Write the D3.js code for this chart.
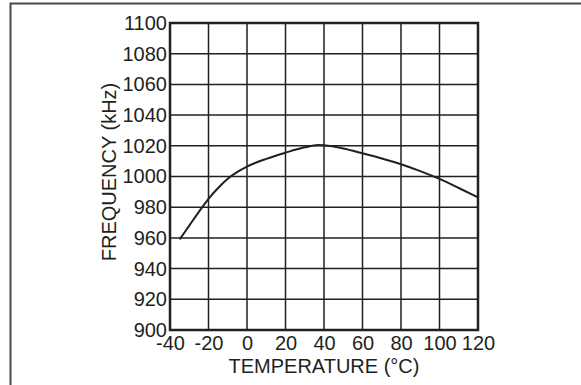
<!DOCTYPE html>
<html>
<head>
<meta charset="utf-8">
<script src="https://cdn.jsdelivr.net/npm/d3@7"></script>
<style>
  body { margin: 0; background: #fff; }
  text { font-family: "Liberation Sans", Arial, sans-serif; fill: #231f20; }
</style>
</head>
<body>
<div id="chart"></div>
<script>
// Datos
const temperature = [-35, -30, -25, -20, -15, -10, -5, 0, 10, 20, 30, 37, 40, 50, 60, 70, 80, 90, 100, 110, 120];
const frequency = [959, 968, 977, 985.5, 992.5, 998.5, 1003, 1006.5, 1011.5, 1015.5, 1019, 1020.5, 1020.3, 1018.3, 1015.1, 1011.7, 1008, 1003.5, 998.4, 992.5, 986.4];
const xTicks = [-40, -20, 0, 20, 40, 60, 80, 100, 120];
const yTicks = [900, 920, 940, 960, 980, 1000, 1020, 1040, 1060, 1080, 1100];

const width = 581;
const height = 385;
const margin = { top: 23, right: 103, bottom: 55, left: 170 };
const innerWidth = width - margin.left - margin.right;
const innerHeight = height - margin.top - margin.bottom;

const svg = d3.select("#chart")
    .append("svg")
    .attr("width", width)
    .attr("height", height);

// Marco exterior
svg.append("path")
    .attr("d", `M10.5,${height} V3.5 H${width}`)
    .attr("fill", "none")
    .attr("stroke", "#4a4a4a")
    .attr("stroke-width", 2);

const g = svg.append("g")
    .attr("transform", `translate(${margin.left},${margin.top})`);

const x = d3.scaleLinear().domain([-40, 120]).range([0, innerWidth]);
const y = d3.scaleLinear().domain([900, 1100]).range([innerHeight, 0]);

// Rejilla
g.append("g")
    .selectAll("line")
    .data(xTicks)
    .enter()
    .append("line")
    .attr("x1", d => x(d)).attr("x2", d => x(d))
    .attr("y1", 0).attr("y2", innerHeight)
    .attr("stroke", "#231f20")
    .attr("stroke-width", 1.5);

g.append("g")
    .selectAll("line")
    .data(yTicks)
    .enter()
    .append("line")
    .attr("y1", d => y(d)).attr("y2", d => y(d))
    .attr("x1", 0).attr("x2", innerWidth)
    .attr("stroke", "#231f20")
    .attr("stroke-width", 1.5);

// Borde del área
g.append("rect")
    .attr("width", innerWidth)
    .attr("height", innerHeight)
    .attr("fill", "none")
    .attr("stroke", "#231f20")
    .attr("stroke-width", 2.5);

// Ejes (solo etiquetas)
const fmt = d => String(d);

const xAxis = g.append("g")
    .attr("transform", `translate(0,${innerHeight})`)
    .call(d3.axisBottom(x).tickValues(xTicks).tickFormat(fmt).tickSize(0).tickPadding(6));
xAxis.select(".domain").remove();
xAxis.selectAll("text").attr("font-size", 20).attr("font-family", null);

const yAxis = g.append("g")
    .call(d3.axisLeft(y).tickValues(yTicks).tickFormat(fmt).tickSize(0).tickPadding(3));
yAxis.select(".domain").remove();
yAxis.selectAll("text").attr("font-size", 20).attr("font-family", null);

// Curva
const line = d3.line()
    .x((d, i) => x(temperature[i]))
    .y(d => y(d))
    .curve(d3.curveMonotoneX);

g.append("path")
    .datum(frequency)
    .attr("d", line)
    .attr("fill", "none")
    .attr("stroke", "#231f20")
    .attr("stroke-width", 2);

// Títulos
svg.append("text")
    .attr("x", margin.left + innerWidth / 2)
    .attr("y", 373)
    .attr("text-anchor", "middle")
    .attr("font-size", 20)
    .text("TEMPERATURE (°C)");

svg.append("text")
    .attr("transform", `translate(116,172) rotate(-90)`)
    .attr("text-anchor", "middle")
    .attr("font-size", 20)
    .text("FREQUENCY (kHz)");
</script>
</body>
</html>
